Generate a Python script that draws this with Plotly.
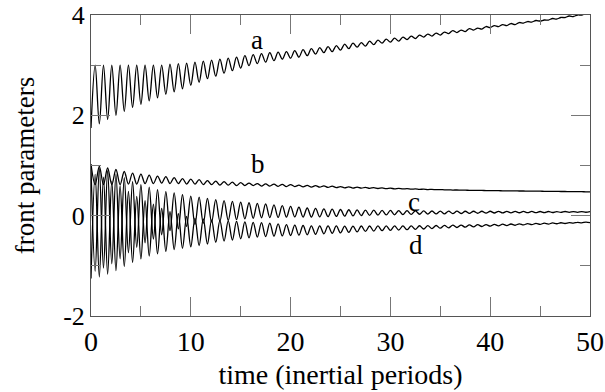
import numpy as np
import plotly.graph_objects as go

# time of successive extrema (half inertial-wave periods), 0..50
t_ext = np.linspace(0, 50, 121)

# curve a: alternating trough/peak values
a_vals = [1.75, 3.0, 1.83, 3.0, 1.92, 3.0, 2.0, 3.0, 2.08, 3.0,
          2.16, 3.0, 2.22, 3.0, 2.29, 3.0, 2.35, 3.0, 2.42, 3.02,
          2.47, 3.03, 2.53, 3.04, 2.6, 3.06, 2.66, 3.08, 2.73, 3.1,
          2.78, 3.12, 2.84, 3.14, 2.89, 3.16, 2.94, 3.19, 2.99, 3.21,
          3.03, 3.23, 3.06, 3.25, 3.09, 3.26, 3.12, 3.27, 3.14, 3.29,
          3.16, 3.31, 3.19, 3.33, 3.22, 3.35, 3.25, 3.37, 3.27, 3.39,
          3.3, 3.42, 3.33, 3.44, 3.36, 3.45, 3.38, 3.48, 3.41, 3.5,
          3.44, 3.52, 3.46, 3.54, 3.48, 3.56, 3.51, 3.58, 3.53, 3.6,
          3.56, 3.62, 3.58, 3.64, 3.6, 3.66, 3.63, 3.69, 3.65, 3.7,
          3.67, 3.73, 3.7, 3.74, 3.72, 3.77, 3.75, 3.79, 3.77, 3.81,
          3.79, 3.83, 3.81, 3.85, 3.84, 3.87, 3.86, 3.89, 3.88, 3.9,
          3.9, 3.93, 3.92, 3.95, 3.95, 3.98, 3.97, 4.0, 4.0, 4.03,
          4.04]

b_vals = [1.03, 0.62, 0.98, 0.62, 0.95, 0.62, 0.92, 0.62, 0.88, 0.63,
          0.85, 0.63, 0.83, 0.64, 0.81, 0.64, 0.79, 0.65, 0.78, 0.64,
          0.76, 0.64, 0.74, 0.63, 0.73, 0.63, 0.72, 0.62, 0.70, 0.62,
          0.69, 0.61, 0.68, 0.61, 0.67, 0.60, 0.66, 0.60, 0.65, 0.60,
          0.64, 0.59, 0.635, 0.59, 0.63, 0.585, 0.625, 0.58, 0.62, 0.58,
          0.61, 0.575, 0.605, 0.57, 0.60, 0.567, 0.595, 0.563, 0.59, 0.56,
          0.58, 0.555, 0.575, 0.55, 0.57, 0.548, 0.565, 0.545, 0.56, 0.542,
          0.555, 0.538, 0.548, 0.535, 0.543, 0.533, 0.538, 0.529, 0.533, 0.525,
          0.528, 0.521, 0.524, 0.518, 0.52, 0.515, 0.516, 0.511, 0.512, 0.508,
          0.509, 0.505, 0.506, 0.503, 0.503, 0.50, 0.50, 0.498, 0.498, 0.496,
          0.496, 0.494, 0.494, 0.492, 0.492, 0.49, 0.49, 0.488, 0.488, 0.486,
          0.486, 0.484, 0.484, 0.482, 0.482, 0.48, 0.48, 0.478, 0.478, 0.476,
          0.476]

c_vals = [0.97, -1.105, 0.94, -1.045, 0.895, -0.96, 0.83, -0.86, 0.76, -0.74,
          0.68, -0.63, 0.62, -0.54, 0.57, -0.465, 0.52, -0.38, 0.48, -0.30,
          0.453, -0.263, 0.42, -0.215, 0.39, -0.18, 0.37, -0.155, 0.345, -0.13,
          0.32, -0.11, 0.30, -0.095, 0.285, -0.08, 0.27, -0.065, 0.258, -0.052,
          0.247, -0.042, 0.234, -0.039, 0.217, -0.035, 0.201, -0.028, 0.185, -0.026,
          0.168, -0.028, 0.153, -0.028, 0.144, -0.024, 0.136, -0.02, 0.13, -0.016,
          0.123, -0.011, 0.118, -0.006, 0.115, 0.0, 0.112, 0.006, 0.109, 0.01,
          0.106, 0.014, 0.104, 0.017, 0.102, 0.021, 0.099, 0.025, 0.097, 0.028,
          0.096, 0.032, 0.093, 0.035, 0.092, 0.037, 0.091, 0.04, 0.089, 0.043,
          0.088, 0.046, 0.088, 0.048, 0.088, 0.051, 0.088, 0.053, 0.086, 0.054,
          0.085, 0.057, 0.085, 0.058, 0.084, 0.06, 0.084, 0.061, 0.083, 0.062,
          0.083, 0.063, 0.082, 0.064, 0.083, 0.066, 0.082, 0.066, 0.082, 0.068,
          0.082]

d_vals = [-1.25, 0.825, -1.22, 0.77, -1.165, 0.69, -1.095, 0.60, -1.015, 0.485,
          -0.93, 0.385, -0.862, 0.30, -0.805, 0.23, -0.76, 0.145, -0.71, 0.08,
          -0.675, 0.04, -0.65, -0.015, -0.62, -0.05, -0.595, -0.065, -0.565, -0.085,
          -0.53, -0.10, -0.505, -0.105, -0.485, -0.115, -0.46, -0.125, -0.443, -0.133,
          -0.427, -0.138, -0.417, -0.148, -0.409, -0.162, -0.402, -0.178, -0.395, -0.189,
          -0.388, -0.196, -0.381, -0.202, -0.373, -0.203, -0.362, -0.204, -0.352, -0.205,
          -0.343, -0.207, -0.334, -0.207, -0.324, -0.206, -0.315, -0.206, -0.307, -0.205,
          -0.299, -0.205, -0.294, -0.205, -0.287, -0.204, -0.28, -0.203, -0.272, -0.201,
          -0.266, -0.199, -0.258, -0.196, -0.25, -0.193, -0.244, -0.19, -0.236, -0.187,
          -0.23, -0.184, -0.222, -0.18, -0.216, -0.177, -0.21, -0.173, -0.203, -0.169,
          -0.197, -0.166, -0.191, -0.162, -0.185, -0.158, -0.179, -0.154, -0.173, -0.15,
          -0.167, -0.145, -0.161, -0.141, -0.156, -0.137, -0.15, -0.132, -0.144, -0.128,
          -0.139]

curve_names = ["a", "b", "c", "d"]
label_x = [16.6, 16.7, 32.4, 32.6]
label_y = [3.16, 0.69, -0.06, -0.92]

x_ticks = [0, 10, 20, 30, 40, 50]
y_ticks = [-2, 0, 2, 4]

FONT = "Liberation Serif, Times New Roman, serif"

fig = go.Figure()
for name, vals in zip(curve_names, [a_vals, b_vals, c_vals, d_vals]):
    fig.add_trace(go.Scatter(
        x=t_ext, y=vals, mode="lines", name=name,
        line=dict(color="black", width=1.3, shape="spline", smoothing=1.0),
        hoverinfo="skip", showlegend=False,
    ))

for name, lx, ly in zip(curve_names, label_x, label_y):
    fig.add_annotation(x=lx, y=ly, text=name, showarrow=False,
                       xanchor="center", yanchor="bottom",
                       font=dict(family=FONT, size=27, color="black"))

axis_common = dict(
    showgrid=False, zeroline=False, showline=True, linecolor="#555",
    linewidth=1, mirror="ticks", ticks="inside", ticklen=19, tickwidth=1,
    tickcolor="#777", ticklabeloverflow="allow",
)

fig.update_xaxes(range=[0, 50], tickvals=x_ticks,
                 ticktext=[str(v) for v in x_ticks],
                 tickfont=dict(family=FONT, size=28, color="black"),
                 minor=dict(dtick=5, tick0=0, ticks="inside", ticklen=10,
                            tickcolor="#777", tickwidth=1),
                 title=dict(text="time (inertial periods)",
                            font=dict(family=FONT, size=28, color="black"),
                            standoff=8),
                 **axis_common)
fig.update_yaxes(range=[-2, 4.0001], tickvals=y_ticks,
                 ticktext=[str(v) for v in y_ticks],
                 tickfont=dict(family=FONT, size=26, color="black"),
                 minor=dict(dtick=1, tick0=0, ticks="inside", ticklen=10,
                            tickcolor="#777", tickwidth=1),
                 title=dict(text="front parameters",
                            font=dict(family=FONT, size=27, color="black"),
                            standoff=20),
                 **axis_common)

fig.update_layout(
    width=605, height=392,
    margin=dict(l=91, r=15, t=15, b=76, autoexpand=False),
    paper_bgcolor="white", plot_bgcolor="white",
)

fig.write_html("out.html", config={"displayModeBar": False})
